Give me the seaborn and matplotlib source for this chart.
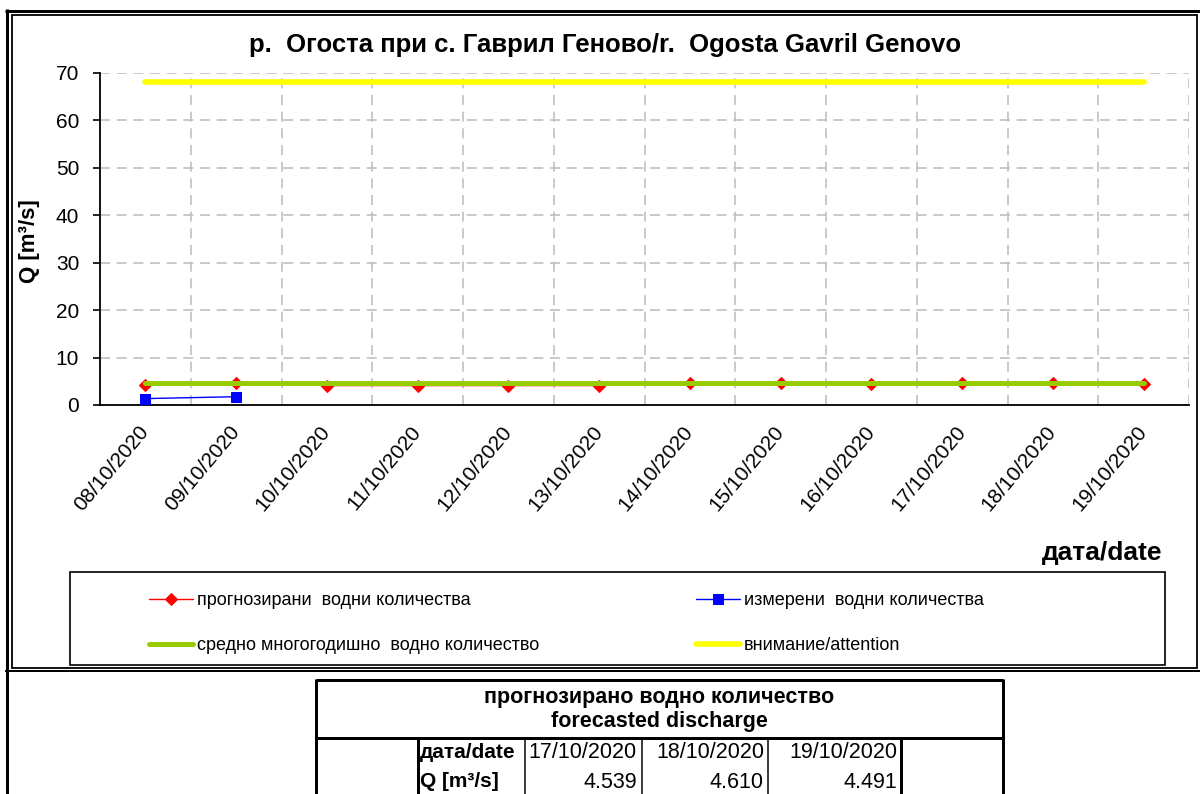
import numpy as np
import matplotlib
matplotlib.use("Agg")
import matplotlib.pyplot as plt
from matplotlib.lines import Line2D
from matplotlib.patches import Rectangle
import seaborn as sns

# ---------------- data ----------------
dates = ["08/10/2020", "09/10/2020", "10/10/2020", "11/10/2020", "12/10/2020", "13/10/2020",
         "14/10/2020", "15/10/2020", "16/10/2020", "17/10/2020", "18/10/2020", "19/10/2020"]
forecast_q = [4.3, 4.7, 4.1, 4.1, 4.1, 4.1, 4.7, 4.7, 4.4, 4.539, 4.610, 4.491]
measured_dates = ["08/10/2020", "09/10/2020"]
measured_q = [1.35, 1.75]
mean_q = [4.7, 4.7, 4.7, 4.7, 4.7, 4.7, 4.7, 4.7, 4.7, 4.7, 4.7, 4.7]
attention_q = [68, 68, 68, 68, 68, 68, 68, 68, 68, 68, 68, 68]
y_ticks = [0, 10, 20, 30, 40, 50, 60, 70]

title = "р.  Огоста при с. Гаврил Геново/r.  Ogosta Gavril Genovo"
y_label = "Q [m³/s]"
x_label = "дата/date"
series_labels = ["прогнозирани  водни количества", "измерени  водни количества",
                 "средно многогодишно  водно количество", "внимание/attention"]

table_title = ["прогнозирано водно количество", "forecasted discharge"]
table_row_labels = ["дата/date", "Q [m³/s]"]
table_dates = ["17/10/2020", "18/10/2020", "19/10/2020"]
table_values = [4.539, 4.610, 4.491]

# ---------------- style ----------------
sns.set_style("white")
plt.rcParams['font.family'] = ['Liberation Sans', 'DejaVu Sans']
plt.rcParams['text.color'] = 'black'
plt.rcParams['axes.labelcolor'] = 'black'
plt.rcParams['xtick.color'] = 'black'
plt.rcParams['ytick.color'] = 'black'

W, H = 1200, 794
fig = plt.figure(figsize=(W / 100, H / 100), dpi=100)
fig.patch.set_facecolor("white")


def P(x, y):
    return x / W, 1 - y / H


def fline(xs, ys, lw_px, color="black"):
    fx = [x / W for x in xs]
    fy = [1 - y / H for y in ys]
    fig.add_artist(Line2D(fx, fy, transform=fig.transFigure, lw=lw_px * 0.72,
                          color=color, solid_capstyle="butt"))


ax = fig.add_axes([100 / W, 1 - 405 / H, 1089 / W, 332 / H])
ax.set_facecolor("white")

xpos = np.arange(len(dates))
mpos = np.array([dates.index(d) for d in measured_dates])

sns.lineplot(x=xpos, y=forecast_q, ax=ax, color="#FF0000", lw=1.0, marker="D",
             markersize=6.5, markeredgecolor="#FF0000", label=series_labels[0], zorder=3)
sns.lineplot(x=mpos, y=measured_q, ax=ax, color="#0000FF", lw=1.0, marker="s",
             markersize=7.5, markeredgecolor="#0000FF", label=series_labels[1], zorder=3)
sns.lineplot(x=xpos, y=mean_q, ax=ax, color="#99CC00", lw=3.6,
             solid_capstyle="round", label=series_labels[2], zorder=4)
sns.lineplot(x=xpos, y=attention_q, ax=ax, color="#FFFF00", lw=4.0,
             solid_capstyle="round", label=series_labels[3], zorder=4)

handles, labels = ax.get_legend_handles_labels()
if ax.get_legend() is not None:
    ax.get_legend().remove()

ax.set_xlim(-0.5, len(dates) - 0.5)
ax.set_ylim(0, 70)
ax.set_yticks(y_ticks)
ax.set_yticklabels([str(v) for v in y_ticks], fontsize=15, color="black")
ax.set_xticks(xpos)
ax.set_xticklabels(dates, fontsize=15, rotation=50, ha="right", va="center",
                   rotation_mode="anchor", color="black")
ax.set_xticks(np.arange(-0.5, len(dates), 1.0), minor=True)
ax.tick_params(axis="x", which="major", length=0, pad=17)
ax.tick_params(axis="x", which="minor", length=5, width=1.2, direction="out", color="black")
ax.tick_params(axis="y", which="major", length=5, width=1.2, direction="out", pad=10,
               color="black", left=True)
ax.set_xlabel("")
ax.set_ylabel("")

grid_kw = dict(color="#C0C0C0", lw=1.2, ls=(0, (6, 4)))
ax.grid(False)
ax.grid(True, which="minor", axis="x", **grid_kw)
ax.grid(True, which="major", axis="y", **grid_kw)
ax.set_axisbelow(True)

for s in ["top", "right"]:
    ax.spines[s].set_visible(False)
for s in ["left", "bottom"]:
    ax.spines[s].set_color("black")
    ax.spines[s].set_linewidth(1.3)

# texts
fig.text(*P(605, 45), title, ha="center", va="center", fontsize=18.5, fontweight="bold")
fig.text(*P(30, 241), y_label, ha="center", va="center", rotation=90, fontsize=16,
         fontweight="bold")
fig.text(*P(1162, 553), x_label, ha="right", va="center", fontsize=19, fontweight="bold")

# legend box
fig.add_artist(Rectangle(P(70, 665), 1095 / W, 93 / H, transform=fig.transFigure,
                         fill=False, ec="black", lw=1.2))
leg_kw = dict(frameon=False, fontsize=13, handlelength=2.45, handletextpad=0.2,
              labelspacing=1.55, borderpad=0, borderaxespad=0, loc="center left",
              bbox_transform=fig.transFigure)
leg1 = fig.legend([handles[0], handles[2]], [labels[0], labels[2]],
                  bbox_to_anchor=P(149, 623), **leg_kw)
leg2 = fig.legend([handles[1], handles[3]], [labels[1], labels[3]],
                  bbox_to_anchor=P(696, 623), **leg_kw)

# frames
fline([6.5, 6.5], [9, 794], 3)
fline([5, 1200], [10.5, 10.5], 3)
fig.add_artist(Rectangle(P(11.5, 668), (1196.5 - 11.5) / W, (668 - 14.5) / H,
                         transform=fig.transFigure, fill=False, ec="black", lw=1.3))
fline([5, 1200], [670.5, 670.5], 2)

# table
tl, tr, tt = 316, 1003, 680
fline([tl, tr], [tt, tt], 3)
fline([tl, tl], [tt - 1.5, 794], 3)
fline([tr, tr], [tt - 1.5, 794], 3)
fline([tl, tr], [737.5, 737.5], 3)
fline([418, 418], [737, 794], 3)
for xv in [525, 642, 768]:
    fline([xv, xv], [737, 794], 1.5)
fline([901, 901], [737, 794], 3)

cx = (tl + tr) / 2
fig.text(*P(cx, 697), table_title[0], ha="center", va="center", fontsize=15.5,
         fontweight="bold")
fig.text(*P(cx, 722), table_title[1], ha="center", va="center", fontsize=15.5,
         fontweight="bold")
fig.text(*P(420, 758), table_row_labels[0], ha="left", va="baseline", fontsize=15,
         fontweight="bold")
fig.text(*P(420, 787), table_row_labels[1], ha="left", va="baseline", fontsize=15,
         fontweight="bold")
cell_right = [637, 764, 897]
for xr, d, v in zip(cell_right, table_dates, table_values):
    fig.text(*P(xr, 758), d, ha="right", va="baseline", fontsize=15.5)
    fig.text(*P(xr, 788), f"{v:.3f}", ha="right", va="baseline", fontsize=15.5)

fig.savefig("out.png", dpi=100, facecolor="white")
